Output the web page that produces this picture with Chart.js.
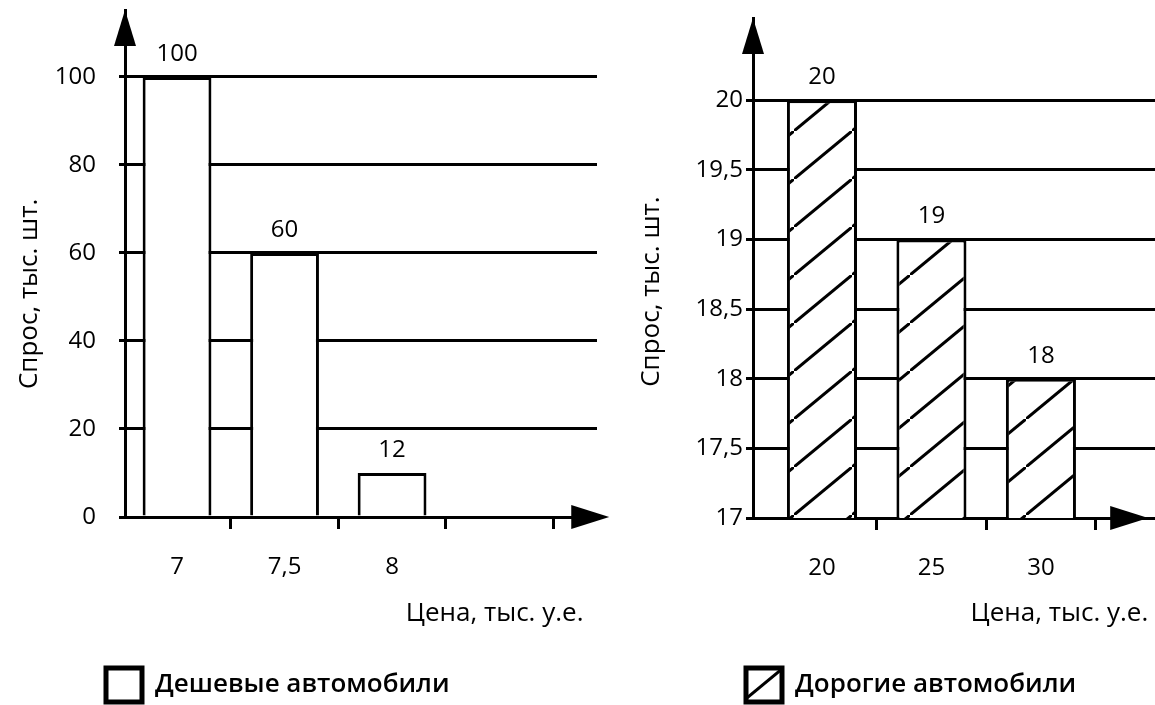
<!DOCTYPE html>
<html>
<head>
<meta charset="utf-8">
<script src="https://cdn.jsdelivr.net/npm/chart.js@4.4.1/dist/chart.umd.min.js"></script>
<style>
    html, body { margin: 0; padding: 0; background: #fff; }
    #wrap { position: relative; width: 1155px; height: 705px; overflow: hidden; }
    #cheapChart { position: absolute; left: 0; top: 0; }
    #dearChart { position: absolute; left: 620px; top: 0; }
</style>
</head>
<body>
<div id="wrap">
    <canvas id="cheapChart" width="620" height="705"></canvas>
    <canvas id="dearChart" width="535" height="705"></canvas>
</div>
<script>
// cheap cars
const cheapPrices = [7, 7.5, 8];
const cheapDemand = [100, 60, 10];
const cheapBarLabels = ['100', '60', '12'];
const cheapXTicks = [7, 7.5, 8, 8.5];
const cheapXLabels = ['7', '7,5', '8', ''];
const cheapYTicks = [0, 20, 40, 60, 80, 100];

// expensive cars
const dearPrices = [20, 25, 30];
const dearDemand = [20, 19, 18];
const dearBarLabels = ['20', '19', '18'];
const dearXTicks = [20, 25, 30, 35];
const dearXLabels = ['20', '25', '30', ''];
const dearYTicks = [17, 17.5, 18, 18.5, 19, 19.5, 20];

Chart.defaults.font.family = '"Open Sans", sans-serif';
Chart.defaults.color = '#000';

const NB = '\u00a0';

function makeHatch() {
    const c = document.createElement('canvas');
    c.width = 58;
    c.height = 48;
    const g = c.getContext('2d');
    g.fillStyle = '#fff';
    g.fillRect(0, 0, 58, 48);
    g.strokeStyle = '#000';
    g.lineWidth = 3;
    g.beginPath();
    g.moveTo(-58, 96);
    g.lineTo(116, -48);
    g.stroke();
    const p = g.createPattern(c, 'repeat');
    // shift so one stripe crosses the legend box diagonally
    p.setTransform(new DOMMatrix([1, 0, 0, 1, 0, 35]));
    return p;
}

// numbers above the bars
const barValues = {
    id: 'barValues',
    afterDatasetsDraw(chart, args, opts) {
        const ctx = chart.ctx;
        ctx.save();
        ctx.font = '24px "Open Sans"';
        ctx.fillStyle = '#000';
        ctx.textAlign = 'center';
        ctx.textBaseline = 'middle';
        chart.getDatasetMeta(0).data.forEach((bar, i) => {
            ctx.fillText(opts.labels[i], bar.x, bar.y - 23);
        });
        ctx.restore();
    }
};

// arrow heads on both axes
const axisArrows = {
    id: 'axisArrows',
    afterDraw(chart, args, opts) {
        const {ctx, chartArea: a} = chart;
        const tip = chart.scales.x.getPixelForValue(opts.xTip);
        ctx.save();
        ctx.fillStyle = '#000';
        ctx.beginPath();
        ctx.moveTo(a.left, a.top);
        ctx.lineTo(a.left - 11, a.top + 36);
        ctx.lineTo(a.left + 11, a.top + 36);
        ctx.closePath();
        ctx.fill();
        ctx.beginPath();
        ctx.moveTo(tip, a.bottom);
        ctx.lineTo(tip - 38, a.bottom - 12);
        ctx.lineTo(tip - 38, a.bottom + 12);
        ctx.closePath();
        ctx.fill();
        ctx.restore();
    }
};

// move the legend under its own chart
const legendShift = {
    id: 'legendShift',
    afterLayout(chart, args, opts) {
        const lg = chart.legend;
        lg.left += opts.dx;
        lg.right += opts.dx;
        lg.top += opts.dy;
        lg.bottom += opts.dy;
    }
};

function demandChart(canvas, o) {
    return new Chart(canvas, {
        type: 'bar',
        data: {
            datasets: [{
                label: o.legend,
                data: o.prices.map((p, i) => ({x: p, y: o.demand[i]})),
                backgroundColor: o.fill,
                borderColor: '#000',
                borderWidth: 3,
                categoryPercentage: 1,
                barPercentage: 0.64
            }]
        },
        options: {
            responsive: false,
            animation: false,
            devicePixelRatio: 1,
            layout: { padding: { top: o.top, left: 0, right: o.right, bottom: 0 } },
            scales: {
                x: {
                    type: 'linear',
                    min: o.xMin,
                    max: o.xMax,
                    offset: false,
                    afterBuildTicks: s => { s.ticks = o.xTicks.map(v => ({value: v})); },
                    afterFit: s => {
                        s.height = o.xHeight;
                        s.paddingLeft = 0;
                        s.paddingRight = 0;
                    },
                    grid: {
                        offset: true,
                        drawOnChartArea: false,
                        tickLength: 12,
                        tickWidth: 3,
                        tickColor: c => c.index === 0 ? 'rgba(0,0,0,0)' : '#000'
                    },
                    border: { color: '#000', width: 3 },
                    ticks: {
                        autoSkip: false,
                        maxRotation: 0,
                        padding: 24,
                        font: { size: 24 },
                        callback: (v, i) => o.xLabels[i]
                    },
                    title: {
                        display: true,
                        text: 'Цена, тыс. у.е.' + o.xTitlePad,
                        align: 'end',
                        font: { size: 26 },
                        padding: { top: 0, bottom: 22 }
                    }
                },
                y: {
                    min: o.yMin,
                    max: o.yMax,
                    afterBuildTicks: s => { s.ticks = o.yTicks.map(v => ({value: v})); },
                    afterFit: s => {
                        s.width = o.yWidth;
                        s.paddingTop = 0;
                        s.paddingBottom = 0;
                    },
                    grid: { color: '#000', lineWidth: 3, tickLength: o.yTickLen },
                    border: { color: '#000', width: 3 },
                    ticks: {
                        padding: o.yPad,
                        font: { size: 24 },
                        callback: v => String(v).replace('.', ',')
                    },
                    title: {
                        display: true,
                        text: 'Спрос, тыс. шт.' + o.yTitlePad,
                        font: { size: 26 },
                        padding: { top: o.yTitleTop, bottom: 0 }
                    }
                }
            },
            plugins: {
                tooltip: { enabled: false },
                legend: {
                    position: 'bottom',
                    align: 'start',
                    labels: {
                        boxWidth: 36,
                        boxHeight: 34,
                        padding: 10,
                        font: { size: 26, weight: '600' },
                        generateLabels: ch => Chart.defaults.plugins.legend.labels.generateLabels(ch)
                            .map(l => Object.assign(l, { lineWidth: 5 }))
                    }
                },
                legendShift: { dx: o.legendDx, dy: 7 },
                axisArrows: { xTip: o.xTip },
                barValues: { labels: o.barLabels }
            }
        },
        plugins: [legendShift, axisArrows, barValues]
    });
}

demandChart(document.getElementById('cheapChart'), {
    legend: 'Дешевые автомобили',
    prices: cheapPrices,
    demand: cheapDemand,
    barLabels: cheapBarLabels,
    xTicks: cheapXTicks,
    xLabels: cheapXLabels,
    yTicks: cheapYTicks,
    fill: '#fff',
    top: 10, right: 23,
    xMin: 6.758, xMax: 8.953, xTip: 9.01,
    yMin: 0, yMax: 115.2,
    xHeight: 134,
    yWidth: 125, yTickLen: 6, yPad: 23, yTitleTop: 14,
    xTitlePad: NB + NB,
    yTitlePad: NB.repeat(9),
    legendDx: 96
});

demandChart(document.getElementById('dearChart'), {
    legend: 'Дорогие автомобили',
    prices: dearPrices,
    demand: dearDemand,
    barLabels: dearBarLabels,
    xTicks: dearXTicks,
    xLabels: dearXLabels,
    yTicks: dearYTicks,
    fill: makeHatch(),
    top: 18, right: 0,
    xMin: 16.85, xMax: 35.21, xTip: 34.9,
    yMin: 17, yMax: 20.59,
    xHeight: 133,
    yWidth: 133, yTickLen: 7, yPad: 3, yTitleTop: 16,
    xTitlePad: NB,
    yTitlePad: NB.repeat(7),
    legendDx: 116
});
</script>
</body>
</html>
